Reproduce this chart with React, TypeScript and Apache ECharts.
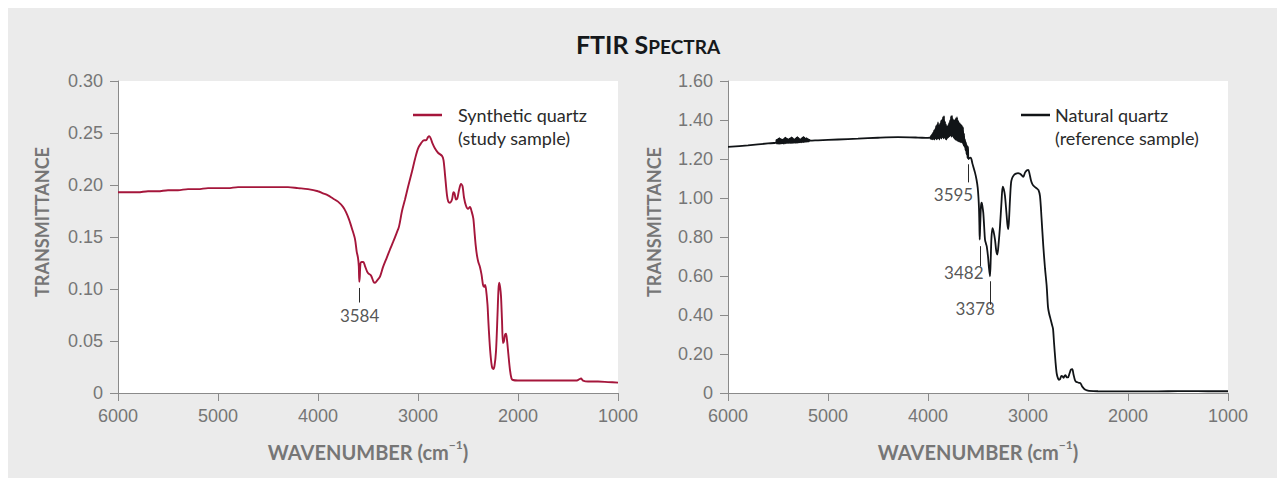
import { useEffect, useRef } from "react";
import * as echarts from "echarts";

// Synthetic quartz (study sample): wavenumber (cm-1) and transmittance
const synWn = [
  6000, 5900, 5800, 5700, 5600, 5500, 5400, 5300, 5200, 5100, 5000, 4900, 4800, 4700, 4600, 4500,
  4400, 4300, 4200, 4100, 4000, 3950, 3900, 3850, 3800, 3750, 3720, 3690, 3660, 3630, 3613, 3600,
  3592, 3587, 3582, 3576, 3565, 3547, 3530, 3510, 3497, 3470, 3445, 3430, 3410, 3380, 3350, 3313,
  3280, 3250, 3213, 3190, 3160, 3130, 3100, 3060, 3030, 3000, 2970, 2940, 2920, 2900, 2887, 2870,
  2855, 2830, 2800, 2760, 2745, 2730, 2710, 2697, 2680, 2660, 2645, 2635, 2620, 2607, 2590, 2570,
  2555, 2540, 2520, 2500, 2480, 2465, 2447, 2435, 2423, 2410, 2397, 2380, 2365, 2350, 2340, 2330,
  2320, 2305, 2297, 2285, 2273, 2260, 2247, 2235, 2220, 2205, 2195, 2187, 2178, 2170, 2160, 2150,
  2140, 2130, 2120, 2110, 2097, 2080, 2065, 2050, 2000, 1800, 1600, 1420, 1390, 1370, 1350, 1300,
  1200, 1100, 1000,
];
const synT = [
  0.193, 0.193, 0.193, 0.194, 0.194, 0.195, 0.195, 0.196, 0.196, 0.197, 0.197, 0.197, 0.198, 0.198,
  0.198, 0.198, 0.198, 0.198, 0.197, 0.196, 0.194, 0.192, 0.19, 0.187, 0.184, 0.179, 0.174, 0.167,
  0.158, 0.148, 0.136, 0.13, 0.122, 0.107, 0.112, 0.124, 0.126, 0.126, 0.122, 0.117, 0.115, 0.113,
  0.107, 0.106, 0.108, 0.112, 0.121, 0.13, 0.138, 0.145, 0.154, 0.16, 0.175, 0.186, 0.198, 0.213,
  0.225, 0.235, 0.24, 0.243, 0.243, 0.246, 0.247, 0.244, 0.24, 0.235, 0.231, 0.228, 0.224, 0.21,
  0.19, 0.184, 0.183, 0.186, 0.193, 0.192, 0.186, 0.187, 0.195, 0.201, 0.199, 0.188, 0.18, 0.177,
  0.179, 0.175, 0.168, 0.155, 0.142, 0.132, 0.126, 0.121, 0.114, 0.104, 0.102, 0.104, 0.1, 0.085,
  0.07, 0.05, 0.035, 0.025, 0.023, 0.026, 0.04, 0.075, 0.1, 0.106, 0.101, 0.093, 0.07, 0.048, 0.05,
  0.056, 0.057, 0.051, 0.038, 0.022, 0.014, 0.0125, 0.012, 0.012, 0.012, 0.012, 0.013, 0.014,
  0.012, 0.011, 0.011, 0.0105, 0.01,
];

// Natural quartz (reference sample): smooth parts of the trace
const natWn = [
  6000, 5800, 5600, 5100, 4900, 4700, 4500, 4300, 4100, 4000, 3595, 3585, 3573, 3555, 3530, 3515,
  3503, 3495, 3490, 3486, 3483, 3478, 3470, 3463, 3455, 3447, 3438, 3430, 3420, 3413, 3400, 3390,
  3380, 3372, 3365, 3355, 3345, 3330, 3318, 3307, 3295, 3280, 3265, 3253, 3242, 3230, 3215, 3200,
  3192, 3180, 3170, 3160, 3140, 3120, 3100, 3080, 3060, 3047, 3030, 3010, 2997, 2985, 2970, 2955,
  2935, 2910, 2895, 2880, 2865, 2847, 2830, 2813, 2800, 2790, 2775, 2760, 2750, 2740, 2725, 2713,
  2700, 2690, 2680, 2665, 2655, 2645, 2637, 2625, 2612, 2600, 2585, 2570, 2557, 2545, 2530, 2520,
  2505, 2490, 2475, 2460, 2445, 2430, 2410, 2390, 2300, 2100, 1800, 1600, 1400, 1200, 1000,
];
const natT = [
  1.262, 1.27, 1.28, 1.296, 1.3, 1.304, 1.309, 1.312, 1.31, 1.308, 1.2, 1.205, 1.207, 1.175, 1.13,
  1.095, 1.053, 1.0, 0.945, 0.86, 0.787, 0.86, 0.96, 0.976, 0.955, 0.924, 0.85, 0.787, 0.765,
  0.753, 0.7, 0.64, 0.598, 0.7, 0.8, 0.846, 0.83, 0.787, 0.73, 0.71, 0.76, 0.855, 0.98, 1.058,
  1.045, 1.01, 0.92, 0.84, 0.87, 0.993, 1.075, 1.1, 1.118, 1.125, 1.128, 1.124, 1.115, 1.108, 1.13,
  1.142, 1.144, 1.125, 1.09, 1.07, 1.058, 1.048, 1.04, 1.01, 0.9, 0.753, 0.64, 0.547, 0.44, 0.41,
  0.38, 0.35, 0.33, 0.26, 0.16, 0.1, 0.075, 0.068, 0.07, 0.088, 0.085, 0.078, 0.085, 0.092, 0.08,
  0.08, 0.1, 0.12, 0.122, 0.095, 0.065, 0.058, 0.055, 0.052, 0.05, 0.035, 0.025, 0.018, 0.013,
  0.011, 0.009, 0.008, 0.008, 0.009, 0.01, 0.009, 0.009,
];

// Natural quartz: noisy stretches, sampled every 5 cm-1 going down from the start value
const noiseStep = 5;
const natNoiseAStart = 5520;
const natNoiseA = [
  1.284, 1.298, 1.279, 1.301, 1.28, 1.305, 1.278, 1.307, 1.28, 1.303, 1.279, 1.3, 1.281, 1.299,
  1.28, 1.302, 1.279, 1.307, 1.281, 1.31, 1.28, 1.306, 1.282, 1.303, 1.281, 1.3, 1.283, 1.304,
  1.281, 1.307, 1.282, 1.311, 1.284, 1.308, 1.282, 1.303, 1.284, 1.301, 1.283, 1.305, 1.283, 1.309,
  1.285, 1.312, 1.284, 1.308, 1.286, 1.303, 1.285, 1.301, 1.287, 1.306, 1.286, 1.31, 1.287, 1.313,
  1.287, 1.309, 1.288, 1.305, 1.288, 1.307, 1.289, 1.303, 1.29, 1.3, 1.291, 1.298, 1.294,
];
const natNoiseBStart = 3980;
const natNoiseB = [
  1.31, 1.304, 1.318, 1.302, 1.326, 1.301, 1.334, 1.303, 1.345, 1.3, 1.352, 1.306, 1.368, 1.301,
  1.375, 1.303, 1.388, 1.305, 1.372, 1.3, 1.381, 1.309, 1.395, 1.304, 1.402, 1.312, 1.415, 1.306,
  1.42, 1.31, 1.392, 1.302, 1.378, 1.3, 1.365, 1.308, 1.372, 1.311, 1.384, 1.316, 1.398, 1.32,
  1.418, 1.314, 1.422, 1.318, 1.405, 1.31, 1.396, 1.303, 1.402, 1.298, 1.41, 1.296, 1.414, 1.292,
  1.398, 1.29, 1.388, 1.288, 1.382, 1.286, 1.376, 1.285, 1.37, 1.282, 1.362, 1.27, 1.33, 1.262,
  1.3, 1.245, 1.285, 1.225, 1.27, 1.205, 1.262,
];

// Annotated band positions (cm-1)
const synPeaks = [3584];
const natPeaks = [3595, 3482, 3378];

const tickFont = "'Liberation Sans', Arial, Helvetica, sans-serif";
const textFont = "Lato, 'Open Sans', sans-serif";
const axisGray = "#8a8a8a";
const labelGray = "#767676";
const synColor = "#a5163b";
const natColor = "#111417";

function pairs(wn: number[], t: number[]): number[][] {
  return wn.map((w, i) => [w, t[i]]);
}

function noisePairs(start: number, values: number[]): number[][] {
  return values.map((v, i) => [start - i * noiseStep, v]);
}

function xAxisFor(gridIndex: number) {
  return {
    type: "value" as const,
    gridIndex,
    min: 1000,
    max: 6000,
    interval: 1000,
    inverse: true,
    axisLine: { show: true, onZero: false, lineStyle: { color: axisGray, width: 1 } },
    axisTick: { show: true, length: 8, lineStyle: { color: axisGray, width: 1 } },
    axisLabel: {
      color: labelGray,
      fontSize: 18,
      fontFamily: tickFont,
      margin: 14,
      formatter: (v: number) => String(v),
    },
    splitLine: { show: false },
  };
}

function yAxisFor(gridIndex: number, max: number, interval: number) {
  return {
    type: "value" as const,
    gridIndex,
    min: 0,
    max,
    interval,
    axisLine: { show: true, lineStyle: { color: axisGray, width: 1 } },
    axisTick: { show: true, length: 8, lineStyle: { color: axisGray, width: 1 } },
    axisLabel: {
      color: labelGray,
      fontSize: 18,
      fontFamily: tickFont,
      margin: 15,
      formatter: (v: number) => (v === 0 ? "0" : v.toFixed(2)),
    },
    splitLine: { show: false },
  };
}

function tickMarks(items: { wn: number; from: number; to: number }[]) {
  return {
    silent: true,
    symbol: "none",
    animation: false,
    label: { show: false },
    lineStyle: { color: "#2a2a2a", width: 1, type: "solid" as const },
    emphasis: { disabled: true },
    data: items.map((d) => [{ coord: [d.wn, d.from] }, { coord: [d.wn, d.to] }]),
  };
}

function peakLabels(
  xAxisIndex: number,
  yAxisIndex: number,
  items: { wn: number; y: number; dx: number }[]
) {
  return items.map((d) => ({
    type: "scatter" as const,
    xAxisIndex,
    yAxisIndex,
    silent: true,
    symbolSize: 1,
    itemStyle: { color: "rgba(0,0,0,0)" },
    data: [[d.wn, d.y]],
    label: {
      show: true,
      position: "inside" as const,
      offset: [d.dx, 0],
      formatter: String(d.wn),
      color: "#2a2a2a",
      fontSize: 17,
      fontFamily: textFont,
    },
  }));
}

function axisName(x: number, y: number, rotate: boolean) {
  return {
    type: "text" as const,
    x,
    y,
    rotation: rotate ? Math.PI / 2 : 0,
    silent: true,
    style: rotate
      ? {
          text: "TRANSMITTANCE",
          fill: labelGray,
          font: `bold 18px ${textFont}`,
          align: "center" as const,
          verticalAlign: "middle" as const,
        }
      : {
          text: "{n|WAVENUMBER (cm}{s|\u22121}{n|)}",
          align: "center" as const,
          verticalAlign: "middle" as const,
          rich: {
            n: { fill: labelGray, font: `bold 20px ${textFont}`, lineHeight: 24, verticalAlign: "bottom" as const },
            s: { fill: labelGray, font: `bold 12px ${textFont}`, lineHeight: 24, verticalAlign: "top" as const },
          },
        },
  };
}

function legendItem(x: number, y: number, textX: number, color: string, line1: string, line2: string) {
  return [
    {
      type: "line" as const,
      silent: true,
      shape: { x1: x, y1: y, x2: x + 29, y2: y },
      style: { stroke: color, lineWidth: 2.5 },
    },
    {
      type: "text" as const,
      silent: true,
      x: textX,
      y: y - 12,
      style: {
        text: line1 + "\n" + line2,
        fill: "#2a2a2a",
        font: `18px ${textFont}`,
        lineHeight: 23,
        verticalAlign: "top" as const,
        align: "left" as const,
      },
    },
  ];
}

export default function App() {
  const ref = useRef<HTMLDivElement>(null);

  useEffect(() => {
    if (!ref.current) return;
    const chart = echarts.init(ref.current, undefined, { renderer: "svg" });

    const synData = pairs(synWn, synT);
    const natData = pairs(natWn, natT)
      .concat(noisePairs(natNoiseAStart, natNoiseA))
      .concat(noisePairs(natNoiseBStart, natNoiseB))
      .sort((a, b) => b[0] - a[0]);

    chart.setOption({
      animation: false,
      backgroundColor: "#ebebeb",
      grid: [
        { left: 110, top: 73, width: 500, height: 312, show: true, backgroundColor: "#ffffff", borderWidth: 0 },
        { left: 720, top: 73, width: 500, height: 312, show: true, backgroundColor: "#ffffff", borderWidth: 0 },
      ],
      xAxis: [xAxisFor(0), xAxisFor(1)],
      yAxis: [yAxisFor(0, 0.3, 0.05), yAxisFor(1, 1.6, 0.2)],
      series: [
        {
          type: "line",
          name: "Synthetic quartz",
          xAxisIndex: 0,
          yAxisIndex: 0,
          data: synData,
          showSymbol: false,
          symbol: "none",
          smooth: 0.3,
          lineStyle: { color: synColor, width: 1.9 },
          silent: true,
          markLine: tickMarks([{ wn: synPeaks[0], from: 0.101, to: 0.087 }]),
        },
        {
          type: "line",
          name: "Natural quartz",
          xAxisIndex: 1,
          yAxisIndex: 1,
          data: natData,
          showSymbol: false,
          symbol: "none",
          smooth: 0.3,
          lineStyle: { color: natColor, width: 1.8 },
          silent: true,
          markLine: tickMarks([
            { wn: natPeaks[0], from: 1.173, to: 1.08 },
            { wn: natPeaks[1], from: 0.753, to: 0.65 },
            { wn: natPeaks[2], from: 0.573, to: 0.453 },
          ]),
        },
        ...peakLabels(0, 0, [{ wn: synPeaks[0], y: 0.0743, dx: 0 }]),
        ...peakLabels(1, 1, [
          { wn: natPeaks[0], y: 1.019, dx: -15 },
          { wn: natPeaks[1], y: 0.619, dx: -16 },
          { wn: natPeaks[2], y: 0.431, dx: -15 },
        ]),
      ],
      graphic: [
        {
          type: "text",
          silent: true,
          x: 640,
          y: 34,
          style: {
            text: "{a|FTIR S}{b|PECTRA}",
            align: "center",
            verticalAlign: "middle",
            rich: {
              a: { fill: "#15181b", font: `bold 25px ${textFont}`, lineHeight: 28, verticalAlign: "bottom" },
              b: { fill: "#15181b", font: `bold 19px ${textFont}`, lineHeight: 28, verticalAlign: "bottom" },
            },
          },
        },
        axisName(34, 214, true),
        axisName(646, 214, true),
        axisName(360, 442, false),
        axisName(970, 442, false),
        ...legendItem(405, 107, 450, synColor, "Synthetic quartz", "(study sample)"),
        ...legendItem(1013, 107, 1047, natColor, "Natural quartz", "(reference sample)"),
      ],
    });

    return () => {
      chart.dispose();
    };
  }, []);

  return <div ref={ref} style={{ width: 1269, height: 470 }} />;
}
